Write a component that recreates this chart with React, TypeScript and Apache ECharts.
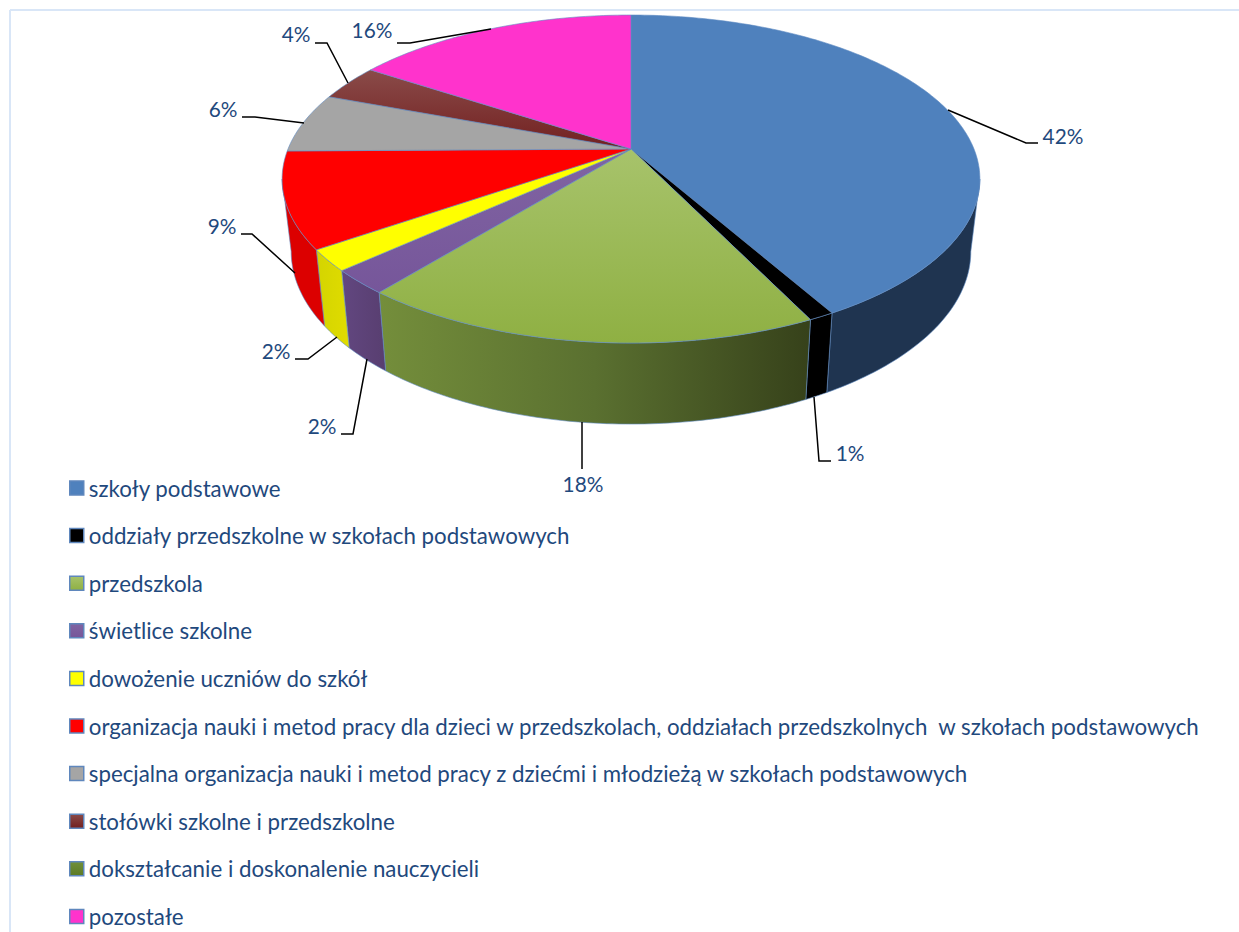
import React, { useEffect, useRef } from "react";
import * as echarts from "echarts";

const categories = [
  "szkoły podstawowe",
  "oddziały przedszkolne w szkołach podstawowych",
  "przedszkola",
  "świetlice szkolne",
  "dowożenie uczniów do szkół",
  "organizacja nauki i metod pracy dla dzieci w przedszkolach, oddziałach przedszkolnych  w szkołach podstawowych",
  "specjalna organizacja nauki i metod pracy z dziećmi i młodzieżą w szkołach podstawowych",
  "stołówki szkolne i przedszkolne",
  "dokształcanie i doskonalenie nauczycieli",
  "pozostałe",
];
const shares = [41.8, 1.0, 18.05, 2.4, 2.1, 9.45, 5.9, 3.55, 0, 15.75];

const grad = (x2: number, y2: number, c0: string, c1: string, mid?: string) =>
  new echarts.graphic.LinearGradient(0, 0, x2, y2,
    mid
      ? [{ offset: 0, color: c0 }, { offset: 0.5, color: mid }, { offset: 1, color: c1 }]
      : [{ offset: 0, color: c0 }, { offset: 1, color: c1 }]);

const topFills: any[] = [
  "#4f81bd", "#000000", grad(0, 1, "#a7c36b", "#8fb043"), grad(0, 1, "#8064a2", "#76569a"),
  "#ffff00", "#ff0000", "#a5a5a5", grad(0, 1, "#8a4b49", "#722020"),
  grad(0, 1, "#70903a", "#5c7a26"), "#ff33cc",
];
const sideFills: any[] = [
  "#1f3450", "#000000", grad(1, 0, "#748e3b", "#36411a", "#5a7030"), grad(1, 0, "#624780", "#583e70"),
  grad(1, 0, "#d4d400", "#e0dc00"), "#dc0000", "#7a7a7a", "#5a1c1c",
  "#4a6020", "#c0209a",
];

// Label placement: [text x, text y, leader polyline as x,y pairs]
const labelLayout: (null | [number, number, number[][]])[] = [
  [1063, 135, [[948, 110], [1026, 143], [1038, 143]]],
  [850, 452.5, [[814, 397], [819, 461], [831, 461]]],
  [583, 483.5, [[582, 422], [582, 469]]],
  [322, 425.5, [[367, 359], [353, 434], [341, 434]]],
  [276, 350.5, [[337, 337], [308, 359], [295, 359]]],
  [222, 225.5, [[295, 273], [252, 234], [241, 234]]],
  [223, 108.5, [[304, 123], [255, 117], [242, 117]]],
  [296, 33, [[348, 83], [327, 43], [315, 43]]],
  null,
  [372, 29, [[491, 29], [410, 43], [397, 43]]],
];

const FONT = "Lato";
const TEXT = "#1f497d";
const EDGE = "rgba(95,140,195,0.75)";

// Perspective view of the pie's top circle
const CX = 631, CY = 149, A = 343, B = 158.5, K = 0.183;
// Where the rim turns out of sight, as shares of the full circle
const RIM_FROM = (Math.acos(-K) / (2 * Math.PI)) * 100;
const RIM_TO = 100 - RIM_FROM;
const topPt = (share: number) => {
  const t = (share / 100) * 2 * Math.PI;
  const X = Math.sin(t), Y = Math.cos(t);
  const d = 1 + K * Y;
  return [CX + (A * X) / d, CY - (B * Y) / d];
};
const botPt = (share: number) => {
  const p = topPt(share);
  return [CX + 0.974 * (p[0] - CX), CY + 70.8 + 1.053 * (p[1] - CY)];
};
const arc = (from: number, to: number, f: (s: number) => number[]) => {
  const n = Math.max(2, Math.ceil((to - from) * 4));
  const out: number[][] = [];
  for (let i = 0; i <= n; i++) out.push(f(from + ((to - from) * i) / n));
  return out;
};

export default function App() {
  const ref = useRef<HTMLDivElement>(null);
  useEffect(() => {
    document.body.style.margin = "0";
    const chart = echarts.init(ref.current!, undefined, { renderer: "svg" });
    let cum = 0;
    const series = categories.map((name, i) => {
      const from = cum;
      cum += shares[i];
      return {
        type: "custom",
        name,
        coordinateSystem: "none",
        silent: true,
        data: [[from, cum, shares[i]]],
        renderItem: (_p: any, api: any) => {
          const s0 = api.value(0), s1 = api.value(1), v = api.value(2);
          if (v <= 0) return { type: "group", children: [] };
          const children: any[] = [];
          const r0 = Math.max(s0, RIM_FROM), r1 = Math.min(s1, RIM_TO);
          if (r1 > r0) {
            const rimTop = arc(r0, r1, topPt);
            const rimBot = arc(r0, r1, botPt);
            children.push({
              type: "polygon", z2: 1,
              shape: { points: rimTop.concat(rimBot.slice().reverse()) },
              style: { fill: sideFills[i], stroke: EDGE, lineWidth: 0.8 },
            });
          }
          children.push({
            type: "polygon", z2: 2,
            shape: { points: [[CX, CY], ...arc(s0, s1, topPt)] },
            style: { fill: topFills[i], stroke: EDGE, lineWidth: 0.8 },
          });
          const lay = labelLayout[i];
          if (lay) {
            children.push({
              type: "polyline", z2: 3,
              shape: { points: lay[2] },
              style: { stroke: "#000", lineWidth: 1.5, fill: "none" },
            });
            children.push({
              type: "text", z2: 3, x: lay[0], y: lay[1],
              style: {
                text: Math.round(v) + "%", fill: TEXT, font: `20.8px ${FONT}`,
                align: "center", verticalAlign: "middle",
              },
            });
          }
          return { type: "group", children };
        },
      };
    });
    chart.setOption({
      animation: false,
      backgroundColor: "#ffffff",
      graphic: [
        { type: "line", shape: { x1: 10, y1: 10, x2: 1239, y2: 10 }, style: { stroke: "#d9e6f7", lineWidth: 2 } },
        { type: "line", shape: { x1: 10, y1: 10, x2: 10, y2: 932 }, style: { stroke: "#d9e6f7", lineWidth: 2 } },
      ],
      legend: {
        orient: "vertical",
        left: 69,
        top: 476,
        padding: 0,
        itemWidth: 14,
        itemHeight: 14,
        itemGap: 23.6,
        icon: "rect",
        selectedMode: false,
        textStyle: { fontFamily: FONT, fontSize: 22.3, color: TEXT, lineHeight: 24, padding: 0 },
        data: categories.map((name, i) => ({
          name,
          itemStyle: { color: topFills[i], borderColor: "#5f87bd", borderWidth: 1.5 },
        })),
      },
      series,
    });
    return () => chart.dispose();
  }, []);
  return <div ref={ref} style={{ position: "absolute", left: 0, top: 0, width: 1239, height: 932 }} />;
}
